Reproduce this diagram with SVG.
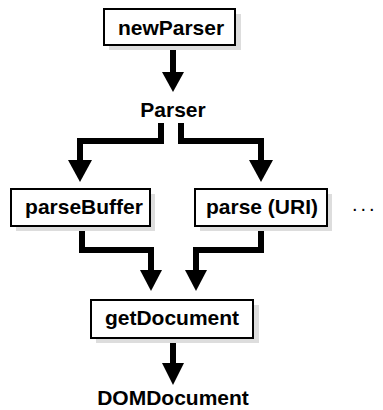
<svg xmlns="http://www.w3.org/2000/svg" width="383" height="410" viewBox="0 0 383 410">
<style>
.box{fill:#fff;stroke:#000;stroke-width:2}
.shadow{fill:#ddd}
.lbl{font-family:"Liberation Sans",Arial,sans-serif;font-weight:bold;font-size:21px;text-anchor:middle;fill:#000}
.wire{fill:none;stroke:#000;stroke-width:6;stroke-linejoin:miter}
.head{fill:#000}
</style>
<rect width="383" height="410" fill="#fff"/>
<g id="connectors">
<path class="wire" d="M173,45 V74"/>
<polygon class="head" points="162,72 184,72 173,92"/>
<path class="wire" d="M161,123 V141 H80 V162"/>
<polygon class="head" points="68,160 92,160 80,182"/>
<path class="wire" d="M181,123 V141 H261 V162"/>
<polygon class="head" points="249,160 273,160 261,182"/>
<path class="wire" d="M82,226 V250 H151 V272"/>
<polygon class="head" points="140,270 162,270 151,291"/>
<path class="wire" d="M261,226 V250 H196 V272"/>
<polygon class="head" points="185,270 207,270 196,291"/>
<path class="wire" d="M173,338 V365"/>
<polygon class="head" points="162,363 184,363 173,385"/>
</g>
<g id="newParser">
<rect class="shadow" x="109" y="14" width="132" height="36"/>
<rect class="box" x="104" y="9" width="131" height="36"/>
<text class="lbl" x="171" y="35">newParser</text>
</g>
<g id="Parser">
<text class="lbl" x="173" y="117">Parser</text>
</g>
<g id="parseBuffer">
<rect class="shadow" x="16" y="194" width="139" height="37"/>
<rect class="box" x="11" y="189" width="139" height="37"/>
<text class="lbl" x="84" y="214">parseBuffer</text>
</g>
<g id="parseURI">
<rect class="shadow" x="200" y="194" width="132" height="37"/>
<rect class="box" x="195" y="189" width="132" height="37"/>
<text class="lbl" x="262" y="214">parse (URI)</text>
</g>
<g id="more">
<text x="352" y="211" style="font-family:'Liberation Sans',Arial,sans-serif;font-size:20px;letter-spacing:3px;fill:#000">...</text>
</g>
<g id="getDocument">
<rect class="shadow" x="96" y="305" width="163" height="38"/>
<rect class="box" x="91" y="300" width="162" height="38"/>
<text class="lbl" x="172" y="325">getDocument</text>
</g>
<g id="DOMDocument">
<text class="lbl" x="173" y="405">DOMDocument</text>
</g>
</svg>
